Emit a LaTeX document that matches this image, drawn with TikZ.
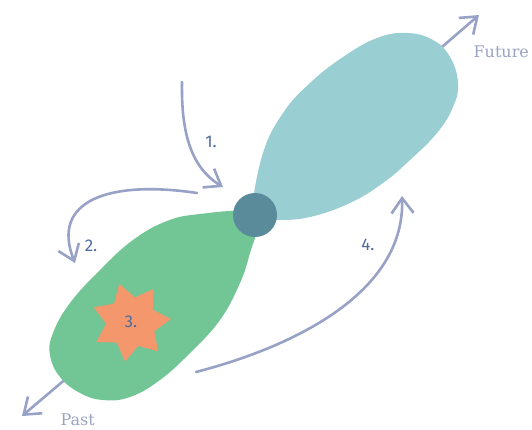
\documentclass[tikz,border=0pt]{standalone}
\usepackage{fontspec}
\setmainfont{Fira Sans}
\newfontfamily\slabfont{DejaVu Serif}
\usetikzlibrary{arrows.meta,shapes.geometric}
\definecolor{lobeFuture}{HTML}{99CED3}
\definecolor{lobePast}{HTML}{72C595}
\definecolor{nowdot}{HTML}{5A8B9B}
\definecolor{burst}{HTML}{F4976C}
\definecolor{flow}{HTML}{98A1C6}
\definecolor{steplabel}{HTML}{4D6D9E}
\definecolor{timelabel}{HTML}{9BA3C3}

\begin{document}
\begin{tikzpicture}[x=1pt,y=-1pt,line width=2.6pt,
 flowarrow/.style={flow,-{Straight Barb[length=15pt,width=22pt]},line cap=round},
 numlabel/.style={text=steplabel,font=\fontsize{17}{20}\selectfont},
 timetext/.style={text=timelabel,anchor=west,font=\slabfont\fontsize{16}{19}\selectfont}]
\useasboundingbox (0,0) rectangle (532,429);
% time axis
\coordinate (fs) at (435,53); \coordinate (ft) at (479,15);
\coordinate (ps) at (68,377); \coordinate (pt) at (22,416);
\draw[flowarrow] (fs)--(ft);
\draw[flowarrow] (ps)--(pt);
\node[timetext] (future) at (469,52) {Future};
\node[timetext] (past) at (56,420) {Past};
% lobes
\fill[lobeFuture] plot[smooth cycle,tension=.7] coordinates {(252,210) (263,153) (283,113)
 (310,83) (343,57) (377,38) (407,33) (433,40) (450,57) (458,83) (453,107) (437,133)
 (410,160) (383,183) (350,203) (310,217) (277,220) (258,218)};
\fill[lobePast] plot[smooth cycle,tension=.7] coordinates {(245,212) (200,214) (167,221)
 (133,240) (100,270) (70,303) (53,333) (50,355) (60,377) (80,393) (103,400) (130,397)
 (160,380) (190,353) (220,320) (240,283) (250,253) (256,228)};
\node[circle,fill=nowdot,minimum size=44pt,inner sep=0pt] (now) at (255,215) {};
\node[star,star points=7,star point ratio=1.6,shape border rotate=17,fill=burst,
 minimum size=80pt,inner sep=0pt,numlabel] (burst) at (131,322) {3.};
% steps
\coordinate (a1s) at (182,82); \coordinate (a1e) at (223,187);
\coordinate (a2s) at (197,193); \coordinate (a2e) at (75,263);
\coordinate (a4s) at (196,372); \coordinate (a4e) at (402,196);
\draw[flowarrow] (a1s) .. controls (181,135) and (192,168) .. (a1e);
\draw[flowarrow] (a2s) .. controls (110,180) and (50,200) .. (a2e);
\draw[flowarrow] (a4s) .. controls (300,345) and (405,290) .. (a4e);
\foreach \x/\y/\n in {211/142/1,91/246/2,368/245/4}
 \node[numlabel] (step\n) at (\x,\y) {\n.};
\end{tikzpicture}
\end{document}
